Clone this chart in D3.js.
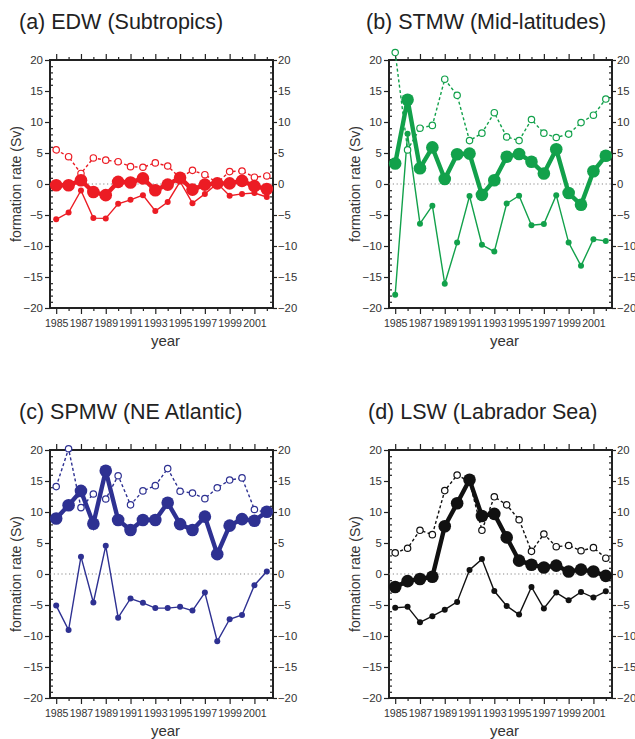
<!DOCTYPE html>
<html>
<head>
<meta charset="utf-8">
<script src="https://cdn.jsdelivr.net/npm/d3@7"></script>
<style>
  html, body { margin: 0; padding: 0; background: #fff; }
  svg { display: block; font-family: "Liberation Sans", Arial, Helvetica, sans-serif; }
</style>
</head>
<body>
<svg id="chart" width="635" height="739"></svg>
<script>
// Water-mass formation rates (Sv), 1985-2002
const years = d3.range(1985, 2003);
const yearLabels = [1985, 1987, 1989, 1991, 1993, 1995, 1997, 1999, 2001];
const rateTicks = [-20, -15, -10, -5, 0, 5, 10, 15, 20];

// (a) EDW (Subtropics)
const edwUpper = [5.5, 4.4, 1.7, 4.2, 3.85, 3.6, 2.8, 2.7, 3.4, 2.9, 1.0, 2.2, 1.5, 0.2, 2.0, 2.1, 1.1, 1.3];
const edwMean  = [-0.2, -0.2, 0.6, -1.3, -1.8, 0.35, 0.25, 0.9, -1.0, -0.1, 1.0, -0.9, -0.1, 0.1, 0.1, 0.5, -0.35, -0.8];
const edwLower = [-5.7, -4.6, -1.05, -5.5, -5.55, -3.2, -2.55, -1.8, -4.35, -2.9, 0.4, -3.1, -1.6, 0.1, -1.9, -1.6, -1.45, -2.1];

// (b) STMW (Mid-latitudes)
const stmwUpper = [21.2, 5.5, 9.0, 9.45, 16.9, 14.3, 7.0, 8.2, 11.5, 7.6, 7.0, 10.4, 8.2, 7.5, 8.05, 9.9, 11.1, 13.7];
const stmwMean  = [3.3, 13.6, 2.55, 5.9, 0.8, 4.8, 4.9, -1.75, 0.6, 4.4, 4.85, 3.6, 1.7, 5.6, -1.45, -3.35, 2.05, 4.55];
const stmwLower = [-17.85, 8.1, -6.4, -3.5, -16.1, -9.45, -1.95, -9.8, -10.9, -3.15, -1.9, -6.65, -6.45, -1.8, -9.45, -13.2, -8.9, -9.2];

// (c) SPMW (NE Atlantic)
const spmwUpper = [14.1, 20.2, 10.7, 12.9, 12.1, 15.85, 11.15, 13.4, 14.25, 17.0, 13.35, 13.05, 12.15, 13.9, 15.15, 15.5, 10.4, 9.9];
const spmwMean  = [8.95, 11.1, 13.4, 8.1, 16.65, 8.7, 7.1, 8.7, 8.7, 11.5, 8.05, 7.1, 9.25, 3.2, 7.8, 8.85, 8.6, 10.05];
const spmwLower = [-5.1, -9.05, 2.8, -4.6, 4.55, -7.05, -3.95, -4.65, -5.5, -5.5, -5.3, -5.9, -3.0, -10.85, -7.3, -6.6, -1.8, 0.4];

// (d) LSW (Labrador Sea)
const lswUpper = [3.4, 4.15, 7.05, 6.35, 13.45, 15.95, 14.9, 7.05, 12.45, 11.15, 8.75, 3.65, 6.45, 4.4, 4.6, 3.75, 4.25, 2.55];
const lswMean  = [-2.1, -1.15, -0.8, -0.45, 7.7, 11.4, 15.2, 9.35, 9.7, 5.9, 2.15, 1.5, 1.05, 1.35, 0.4, 0.7, 0.4, -0.3];
const lswLower = [-5.45, -5.3, -7.8, -6.8, -5.75, -4.5, 0.65, 2.4, -2.75, -5.15, -6.55, -2.1, -5.55, -3.0, -4.25, -2.9, -3.8, -2.8];

const titles = ["(a) EDW (Subtropics)", "(b) STMW (Mid-latitudes)", "(c) SPMW (NE Atlantic)", "(d) LSW (Labrador Sea)"];
const colors = ["#ec1c24", "#12a14b", "#2e3192", "#111111"];

const panels = [
  { title: titles[0], color: colors[0], upper: edwUpper, mean: edwMean, lower: edwLower, left: 50, top: 60, titleX: 19 },
  { title: titles[1], color: colors[1], upper: stmwUpper, mean: stmwMean, lower: stmwLower, left: 389, top: 60, titleX: 366 },
  { title: titles[2], color: colors[2], upper: spmwUpper, mean: spmwMean, lower: spmwLower, left: 50, top: 450, titleX: 19 },
  { title: titles[3], color: colors[3], upper: lswUpper, mean: lswMean, lower: lswLower, left: 389, top: 450, titleX: 368 }
];

const plotW = 223, plotH = 248;
const svg = d3.select("#chart");

panels.forEach(p => {
  const g = svg.append("g").attr("transform", `translate(${p.left},${p.top})`);

  const x = d3.scaleLinear().domain([1984.5, 2002.5]).range([0, plotW]);
  const y = d3.scaleLinear().domain([-20, 20]).range([plotH, 0]);

  const oddYears = years.filter(v => v % 2 === 1);
  const evenYears = years.filter(v => v % 2 === 0);
  const minorRates = d3.range(-20, 21, 1).filter(v => v % 5 !== 0);

  const styleAxis = sel => {
    sel.select(".domain").remove();
    sel.selectAll("line").attr("stroke", "#222").attr("stroke-width", 1.2);
    sel.selectAll("text").attr("fill", "#333");
  };

  // left axis: labelled majors outward, minors inward
  g.append("g")
    .call(d3.axisLeft(y).tickValues(rateTicks).tickSize(5).tickPadding(2).tickFormat(d3.format("d")))
    .call(styleAxis)
    .selectAll("text").attr("font-size", 11.5);
  g.append("g")
    .call(d3.axisLeft(y).tickValues(minorRates).tickSize(-3).tickFormat(""))
    .call(styleAxis);

  // right axis
  g.append("g").attr("transform", `translate(${plotW},0)`)
    .call(d3.axisRight(y).tickValues(rateTicks).tickSize(4).tickPadding(1).tickFormat(d3.format("d")))
    .call(styleAxis)
    .selectAll("text").attr("font-size", 11.3);
  g.append("g").attr("transform", `translate(${plotW},0)`)
    .call(d3.axisRight(y).tickValues(minorRates).tickSize(-3).tickFormat(""))
    .call(styleAxis);

  // bottom axis
  g.append("g").attr("transform", `translate(0,${plotH})`)
    .call(d3.axisBottom(x).tickValues(yearLabels).tickSize(6).tickPadding(5).tickFormat(d3.format("d")))
    .call(styleAxis)
    .selectAll("text").attr("font-size", 10.6);
  g.append("g").attr("transform", `translate(0,${plotH})`)
    .call(d3.axisBottom(x).tickValues(evenYears).tickSize(3).tickFormat(""))
    .call(styleAxis);

  // top axis
  g.append("g")
    .call(d3.axisTop(x).tickValues(oddYears).tickSize(6).tickFormat(""))
    .call(styleAxis);
  g.append("g")
    .call(d3.axisTop(x).tickValues(evenYears).tickSize(3).tickFormat(""))
    .call(styleAxis);

  // frame
  g.append("rect")
    .attr("width", plotW).attr("height", plotH)
    .attr("fill", "none").attr("stroke", "#222").attr("stroke-width", 2);

  // zero reference
  g.append("line")
    .attr("x1", 0).attr("x2", plotW).attr("y1", y(0)).attr("y2", y(0))
    .attr("stroke", "#888").attr("stroke-width", 1.2).attr("stroke-dasharray", "1.2,2.6");

  const line = d3.line().x((d, i) => x(years[i])).y(d => y(d));

  // lower series: thin line, small dots
  g.append("path").datum(p.lower).attr("d", line)
    .attr("fill", "none").attr("stroke", p.color).attr("stroke-width", 1.4);
  g.selectAll(".lo").data(p.lower).join("circle").attr("class", "lo")
    .attr("cx", (d, i) => x(years[i])).attr("cy", d => y(d)).attr("r", 3)
    .attr("fill", p.color);

  // upper series: dashed line, open dots
  g.append("path").datum(p.upper).attr("d", line)
    .attr("fill", "none").attr("stroke", p.color).attr("stroke-width", 1.4)
    .attr("stroke-dasharray", "3,2.4");
  g.selectAll(".up").data(p.upper).join("circle").attr("class", "up")
    .attr("cx", (d, i) => x(years[i])).attr("cy", d => y(d)).attr("r", 3.2)
    .attr("fill", "#fff").attr("stroke", p.color).attr("stroke-width", 1.2);

  // mean series: thick line, large dots
  g.append("path").datum(p.mean).attr("d", line)
    .attr("fill", "none").attr("stroke", p.color).attr("stroke-width", 4.4);
  g.selectAll(".mid").data(p.mean).join("circle").attr("class", "mid")
    .attr("cx", (d, i) => x(years[i])).attr("cy", d => y(d)).attr("r", 6.3)
    .attr("fill", p.color);

  // labels
  g.append("text")
    .attr("transform", `translate(${-34},${plotH / 2}) rotate(-90)`)
    .attr("text-anchor", "middle").attr("dy", "0.35em")
    .attr("font-size", 14).attr("fill", "#333")
    .text("formation rate (Sv)");
  g.append("text")
    .attr("x", plotW / 2 + 4).attr("y", plotH + 38)
    .attr("text-anchor", "middle")
    .attr("font-size", 15).attr("fill", "#333")
    .text("year");

  svg.append("text")
    .attr("x", p.titleX).attr("y", p.top - 31)
    .attr("font-size", 21.5).attr("fill", "#222")
    .text(p.title);
});
</script>
</body>
</html>
